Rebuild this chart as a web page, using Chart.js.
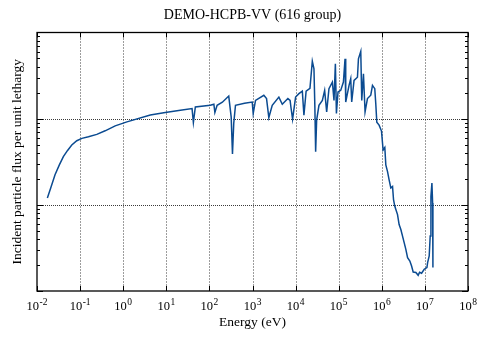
<!DOCTYPE html>
<html>
<head>
<meta charset="utf-8">
<script src="https://cdn.jsdelivr.net/npm/chart.js@4.4.1/dist/chart.umd.min.js"></script>
<style>
  html, body { margin: 0; padding: 0; background: #fff; }
  #wrap { width: 478px; height: 340px; }
</style>
</head>
<body>
<div id="wrap"><canvas id="c" width="478" height="340"></canvas></div>
<script>
// Group-wise neutron spectrum (616 groups): energy (eV) and flux per unit lethargy
const energy = [
  1.74e-2, 2.08e-2, 2.62e-2, 3.30e-2, 4.09e-2, 5.07e-2, 6.41e-2, 8.38e-2, 0.110, 0.156,
  0.244, 0.381, 0.652, 1.22, 4.25, 9.48, 21.2, 39.6, 42.5, 47.2, 105, 127, 134,
  151, 200, 281, 320, 343, 367, 403, 652, 984, 1038,
  1175, 1832, 2117, 2393, 2871, 4090, 4909, 6622, 7447, 7852,
  8511, 10000, 11940, 14320, 15600, 17540, 21520, 24430, 26670, 27990,
  29170, 30770, 34830, 41780, 47210, 52600, 59430, 71290, 77800, 83750,
  88510, 96380, 111400, 128600, 140300, 145500, 173800, 190100, 200400, 227000,
  272300, 287100, 325100, 342700, 375100, 409000, 464500, 554600, 608100, 687100,
  724400, 765600, 865000, 984000, 1.072e6, 1.175e6, 1.239e6, 1.358e6, 1.479e6, 1.619e6,
  1.774e6, 1.871e6, 2.004e6, 2.317e6, 2.523e6, 2.767e6, 3.027e6, 3.304e6, 3.614e6, 3.963e6,
  4.477e6, 4.909e6, 5.346e6, 6.18e6, 6.98e6, 7.53e6, 8.38e6, 9.64e6, 1.114e7, 1.156e7,
  1.259e7, 1.327e7, 1.380e7, 1.455e7, 1.510e7, 1.535e7
];
const flux = [
  1.20e-2, 1.57e-2, 2.23e-2, 2.91e-2, 3.62e-2, 4.25e-2, 4.95e-2, 5.55e-2, 5.91e-2, 6.17e-2,
  6.57e-2, 7.23e-2, 8.26e-2, 9.18e-2, 0.110, 0.118, 0.125, 0.131, 9.04e-2, 0.137, 0.143, 0.147, 0.118,
  0.143, 0.155, 0.183, 0.105, 3.90e-2, 8.81e-2, 0.143, 0.151, 0.156, 0.115,
  0.163, 0.187, 0.171, 0.103, 0.143, 0.178, 0.147, 0.171, 0.163, 0.132,
  9.87e-2, 0.178, 0.195, 0.209, 0.110, 0.208, 0.225, 0.464, 0.379, 0.137,
  4.14e-2, 9.61e-2, 0.143, 0.163, 0.213, 0.120, 0.223, 0.266, 0.163, 0.433,
  0.115, 0.204, 0.213, 0.266, 0.495, 0.156, 0.243, 0.291, 0.156, 0.278,
  0.303, 0.495, 0.605, 0.163, 0.332, 0.120, 0.171, 0.187, 0.243, 0.223,
  0.150, 9.12e-2, 8.41e-2, 7.18e-2, 4.33e-2, 4.63e-2, 2.91e-2, 2.43e-2, 1.95e-2, 1.57e-2,
  1.63e-2, 1.15e-2, 9.61e-3, 7.71e-3, 5.91e-3, 5.18e-3, 4.34e-3, 3.64e-3, 3.04e-3, 2.44e-3,
  2.23e-3, 1.95e-3, 1.66e-3, 1.64e-3, 1.52e-3, 1.65e-3, 1.61e-3, 1.79e-3, 1.87e-3, 2.14e-3,
  2.55e-3, 4.34e-3, 1.25e-2, 1.79e-2, 1.05e-2, 1.87e-3
];

// Axis decades and their labels
const xTickValues = [1e-2, 1e-1, 1e0, 1e1, 1e2, 1e3, 1e4, 1e5, 1e6, 1e7, 1e8];
const xTickExponents = ['-2', '-1', '0', '1', '2', '3', '4', '5', '6', '7', '8'];
const yTickValues = [1e-3, 1e-2, 1e-1, 1e0];
const yMinorSteps = [2, 3, 4, 5, 6, 7, 8, 9];

const SERIF = "'Liberation Serif', 'DejaVu Serif', serif";

// Dotted grid at every decade, drawn under the data
const gridPlugin = {
  id: 'dottedGrid',
  beforeDatasetsDraw(chart) {
    const { ctx, chartArea: a, scales: { x, y } } = chart;
    ctx.save();
    ctx.strokeStyle = '#3a3a3a';
    ctx.lineWidth = 1;
    ctx.setLineDash([1, 2]);
    ctx.beginPath();
    xTickValues.slice(1, -1).forEach(v => {
      const px = Math.round(x.getPixelForValue(v)) + 0.5;
      ctx.moveTo(px, a.top); ctx.lineTo(px, a.bottom);
    });
    ctx.stroke();
    ctx.setLineDash([1, 1]);
    ctx.beginPath();
    yTickValues.slice(1, -1).forEach(v => {
      const py = Math.round(y.getPixelForValue(v)) + 0.5;
      ctx.moveTo(a.left, py); ctx.lineTo(a.right, py);
    });
    ctx.stroke();
    ctx.restore();
  }
};

// Frame, inward tick marks and power-of-ten tick labels
const framePlugin = {
  id: 'frame',
  afterDraw(chart) {
    const { ctx, chartArea: a, scales: { x, y } } = chart;
    ctx.save();
    ctx.strokeStyle = '#000';
    ctx.lineWidth = 1;
    ctx.beginPath();
    xTickValues.forEach(v => {
      const px = Math.round(x.getPixelForValue(v)) + 0.5;
      ctx.moveTo(px, a.bottom); ctx.lineTo(px, a.bottom - 5);
      ctx.moveTo(px, a.top); ctx.lineTo(px, a.top + 5);
    });
    for (let i = 0; i < yTickValues.length - 1; i++) {
      const base = yTickValues[i];
      const major = Math.round(y.getPixelForValue(base)) + 0.5;
      ctx.moveTo(a.left, major); ctx.lineTo(a.left + 6, major);
      ctx.moveTo(a.right, major); ctx.lineTo(a.right - 6, major);
      yMinorSteps.forEach(m => {
        const py = Math.round(y.getPixelForValue(base * m)) + 0.5;
        ctx.moveTo(a.left, py); ctx.lineTo(a.left + 3, py);
        ctx.moveTo(a.right, py); ctx.lineTo(a.right - 3, py);
      });
    }
    ctx.stroke();

    ctx.lineWidth = 1.3;
    ctx.strokeRect(a.left, a.top, a.right - a.left, a.bottom - a.top);

    // "10" with a raised exponent under each decade
    ctx.fillStyle = '#000';
    ctx.textBaseline = 'alphabetic';
    const baseFont = '12.5px ' + SERIF;
    const expFont = '9.5px ' + SERIF;
    xTickValues.forEach((v, i) => {
      const px = x.getPixelForValue(v);
      ctx.font = baseFont;
      const wBase = ctx.measureText('10').width;
      ctx.font = expFont;
      const wExp = ctx.measureText(xTickExponents[i]).width;
      const left = px - (wBase + wExp + 0.5) / 2;
      ctx.font = baseFont;
      ctx.textAlign = 'left';
      ctx.fillText('10', left, 310);
      ctx.font = expFont;
      ctx.fillText(xTickExponents[i], left + wBase + 0.5, 304.5);
    });
    ctx.restore();
  }
};

const points = energy.map((e, i) => ({ x: e, y: flux[i] }));

new Chart(document.getElementById('c'), {
  type: 'line',
  data: {
    datasets: [{
      data: points,
      borderColor: '#0b4b91',
      borderWidth: 1.5,
      pointRadius: 0,
      tension: 0,
      fill: false
    }]
  },
  options: {
    responsive: false,
    animation: false,
    events: [],
    layout: { padding: { left: 0, right: 10, top: 0, bottom: 0 } },
    plugins: {
      legend: { display: false },
      tooltip: { enabled: false },
      title: {
        display: true,
        fullSize: false,
        text: 'DEMO-HCPB-VV (616 group)',
        color: '#000',
        font: { family: SERIF, size: 14, weight: 'normal' },
        padding: { top: 7, bottom: 8.7 }
      }
    },
    scales: {
      x: {
        type: 'logarithmic',
        min: 1e-2,
        max: 1e8,
        afterBuildTicks: s => { s.ticks = xTickValues.map(v => ({ value: v })); },
        afterFit: s => { s.height = 49; },
        ticks: { display: false },
        grid: { display: false },
        border: { display: false },
        title: {
          display: true,
          text: 'Energy (eV)',
          color: '#000',
          font: { family: SERIF, size: 13.5, weight: 'normal' },
          padding: { top: 0, bottom: 9.2 }
        }
      },
      y: {
        type: 'logarithmic',
        min: 1e-3,
        max: 1e0,
        afterBuildTicks: s => { s.ticks = yTickValues.map(v => ({ value: v })); },
        afterFit: s => { s.width = 37; },
        ticks: { display: false },
        grid: { display: false },
        border: { display: false },
        title: {
          display: true,
          text: 'Incident particle flux per unit lethargy',
          color: '#000',
          font: { family: SERIF, size: 13.5, weight: 'normal' },
          padding: { top: 8.9, bottom: 0 }
        }
      }
    }
  },
  plugins: [gridPlugin, framePlugin]
});
</script>
</body>
</html>
